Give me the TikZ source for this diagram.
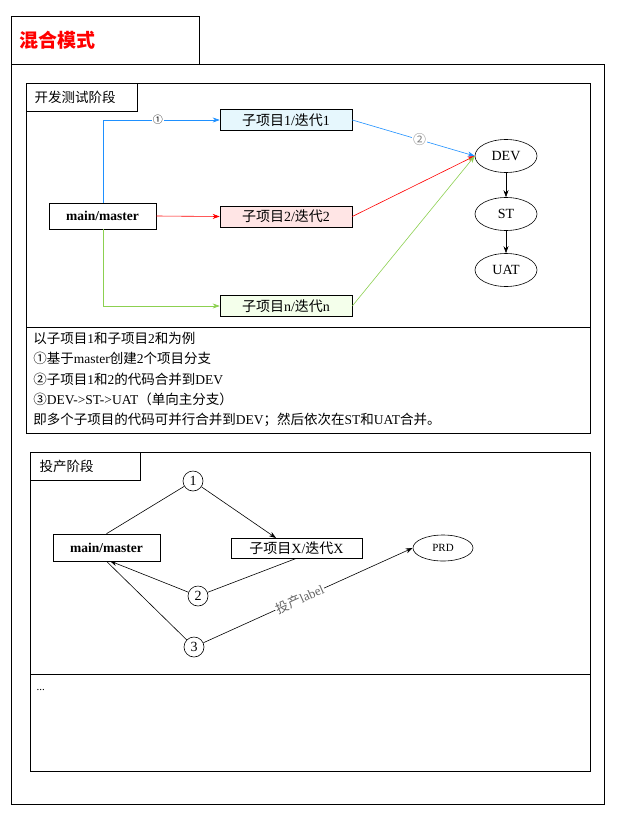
\documentclass[tikz,border=0pt]{standalone}
\usepackage{fontspec}
\setmainfont{Liberation Serif}
\newfontfamily\cjk{Noto Sans CJK SC}
\newcommand{\zh}[1]{{\cjk #1}}
\usetikzlibrary{arrows.meta,shapes.geometric}
\definecolor{bl}{HTML}{1E90FF}
\definecolor{gr}{HTML}{8CD050}
\begin{document}
\begin{tikzpicture}[x=1pt,y=-1pt,line width=0.6pt,
  every node/.style={font=\fontsize{14}{16}\selectfont},
  box/.style={draw,minimum width=132pt,minimum height=21pt,inner sep=0pt},
  ell/.style={draw,ellipse,minimum width=62pt,minimum height=33pt,inner sep=0pt},
  circ/.style={draw,circle,minimum size=20pt,inner sep=0pt},
  arr/.style={-{Stealth[length=7pt,width=5pt]}},
  frame/.style={draw}]
\useasboundingbox (0,0) rectangle (623,819);
% frames
\draw[frame] (11,16) rectangle (199,64);
\node[anchor=west,text=red,font=\cjk\bfseries\fontsize{19}{21}\selectfont] (title) at (16,40) {混合模式};
\draw[frame] (11,64) rectangle (604,804);
\draw[frame] (26,83) rectangle (590,433);
\draw[frame] (26,327) -- (590,327);
\draw[frame] (26,83) rectangle (137,111);
\node[anchor=west,font=\cjk\fontsize{13.5}{15}\selectfont] (dt) at (31,97) {开发测试阶段};
% dev nodes
\node[box,minimum width=107pt,minimum height=26pt,font=\bfseries\fontsize{13.5}{15}\selectfont] (mm) at (102.5,216) {main/master};
\node[box,fill=cyan!10] (s1) at (286,120) {\zh{子项目}1/\zh{迭代}1};
\node[box,fill=red!10] (s2) at (286,216.5) {\zh{子项目}2/\zh{迭代}2};
\node[box,fill=green!40!lime!8] (sn) at (286,306) {\zh{子项目}n/\zh{迭代}n};
\node[ell] (dev) at (506,156) {DEV};
\node[ell] (st) at (506,214) {ST};
\node[ell] (uat) at (506,270) {UAT};
\coordinate (b1) at (103,120);
\coordinate (g1) at (103,306);
\draw[bl,arr] (mm.north -| b1) -- (b1) -- node[pos=0.47,fill=white,inner sep=1pt,text=black,font=\cjk\fontsize{10}{12}\selectfont]{①} (s1.west);
\draw[red,arr] (mm.east) -- (s2.west);
\draw[gr,arr] (mm.south -| g1) -- (g1) -- (sn.west);
\draw[bl,arr] (s1.east) -- node[pos=0.55,fill=white,inner sep=1pt,text=gray,font=\cjk\fontsize{13}{14}\selectfont]{②} (dev.west);
\draw[red,arr] (s2.east) -- (dev.west);
\draw[gr,arr] (sn.east) -- (dev.west);
\draw[arr] (dev) -- (st);
\draw[arr] (st) -- (uat);
% description
\node[anchor=north west,align=left,inner sep=0pt,font=\fontsize{13.5}{20.3}\selectfont] (desc) at (33,332) {%
\zh{以子项目}1\zh{和子项目}2\zh{和为例}\\
\zh{①基于}master\zh{创建}2\zh{个项目分支}\\
\zh{②子项目}1\zh{和}2\zh{的代码合并到}DEV\\
\zh{③}DEV-{}>ST-{}>UAT\zh{（单向主分支）}\\
\zh{即多个子项目的代码可并行合并到}DEV\zh{；然后依次在}ST\zh{和}UAT\zh{合并。}};
% production
\draw[frame] (30,452) rectangle (590,771);
\draw[frame] (30,674) -- (590,674);
\draw[frame] (30,452) rectangle (140,480);
\node[anchor=west,font=\cjk\fontsize{13.5}{15}\selectfont] (pt) at (36,466) {投产阶段};
\node[box,minimum width=107pt,minimum height=27pt,font=\bfseries\fontsize{13.5}{15}\selectfont] (pm) at (106.5,547.5) {main/master};
\node[box,minimum width=131pt,minimum height=20pt,fill=white] (sx) at (296.5,548) {\zh{子项目}X/\zh{迭代}X};
\node[ell,minimum width=60pt,minimum height=26pt,font=\fontsize{11}{12}\selectfont] (prd) at (443,548) {PRD};
\node[circ] (c1) at (193,481) {1};
\node[circ] (c2) at (198,596) {2};
\node[circ] (c3) at (194,647) {3};
\draw (pm.north) -- (c1);
\draw[arr] (c1) -- (276,538);
\draw (sx.south) -- (c2);
\draw[arr] (c2) -- (110,561);
\draw (pm.south) -- (c3);
\draw[arr] (c3) -- node[pos=0.46,sloped,fill=white,inner sep=1pt,text=gray!80!black,font=\fontsize{13}{14}\selectfont]{\zh{投产}label} (prd.west);
\node[anchor=west,font=\fontsize{11}{12}\selectfont] (dots) at (33,690) {...};
\end{tikzpicture}
\end{document}
